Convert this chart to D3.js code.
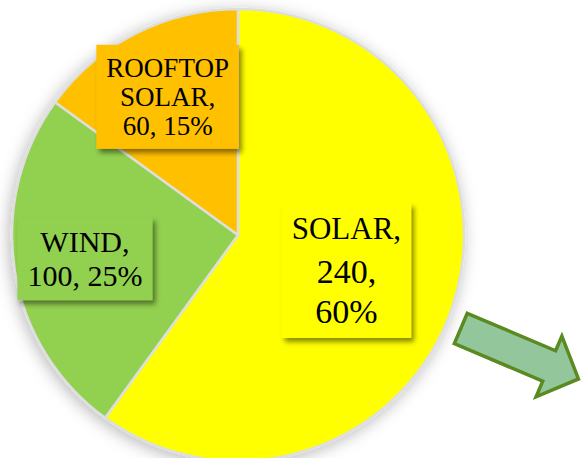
<!DOCTYPE html>
<html>
<head>
<meta charset="utf-8">
<script src="https://cdn.jsdelivr.net/npm/d3@7"></script>
<style>
  body { margin: 0; background: #fff; }
  svg { display: block; }
</style>
</head>
<body>
<div id="main"></div>
<script>
/// data ///
const categories = ['SOLAR', 'WIND', 'ROOFTOP SOLAR'];
const values = [240, 100, 60];
const percents = [60, 25, 15];
const colours = ['#ffff00', '#92d050', '#ffc000'];
// label text lines, as in the chart
const labelLines = [
    ['SOLAR,', '240,', '60%'],
    ['WIND,', '100, 25%'],
    ['ROOFTOP', 'SOLAR,', '60, 15%']
];

/// svg frame ///
const w = 582;
const h = 458;
const cx = 238, cy = 235, radius = 226;

let svg = d3.select('#main')
    .append('svg')
    .attr('width', w)
    .attr('height', h);

let defs = svg.append('defs');

// soft shadow round the pie
defs.append('filter')
    .attr('id', 'pieShadow')
    .attr('x', '-20%').attr('y', '-20%')
    .attr('width', '140%').attr('height', '140%')
    .append('feDropShadow')
    .attr('dx', -2).attr('dy', 3)
    .attr('stdDeviation', 8)
    .attr('flood-color', '#000')
    .attr('flood-opacity', 0.28);

// shadow under the label boxes
defs.append('filter')
    .attr('id', 'boxShadow')
    .attr('x', '-20%').attr('y', '-20%')
    .attr('width', '140%').attr('height', '140%')
    .append('feDropShadow')
    .attr('dx', 3).attr('dy', 4)
    .attr('stdDeviation', 2.5)
    .attr('flood-color', '#000')
    .attr('flood-opacity', 0.45);

let pieData = d3.pie()
    .sort(null)
    .value(d => d)(values);

let arc = d3.arc()
    .innerRadius(0)
    .outerRadius(radius);

let g = svg.append('g')
    .attr('transform', 'translate(' + cx + ',' + cy + ')');

g.append('g')
    .attr('filter', 'url(#pieShadow)')
    .selectAll('path')
    .data(pieData)
    .enter()
    .append('path')
    .attr('d', arc)
    .attr('fill', (d, i) => colours[i])
    .attr('stroke', '#dedede')
    .attr('stroke-width', 2.5)
    .attr('stroke-linejoin', 'round');

/// labels ///
let sizes = [[31, 34, 34], [30, 30], [27, 27, 27]];
let gaps = [[0, 43, 40], [0, 34], [0, 29, 29]];

pieData.forEach((d, i) => {
    let r = i === 0 ? 114 : 155;
    let c = d3.arc().innerRadius(r).outerRadius(r).centroid(d);

    let lg = g.append('g')
        .attr('transform', 'translate(' + c[0] + ',' + c[1] + ')');

    let box = lg.append('rect')
        .attr('fill', colours[i])
        .attr('filter', 'url(#boxShadow)');

    let txt = lg.append('text')
        .attr('text-anchor', 'middle')
        .style('font-family', '"Liberation Serif", "Times New Roman", serif')
        .style('fill', '#000');

    let total = d3.sum(gaps[i]);
    labelLines[i].forEach((line, j) => {
        txt.append('tspan')
            .attr('x', 0)
            .attr('y', d3.sum(gaps[i].slice(0, j + 1)) - total / 2 + sizes[i][j] * 0.33)
            .style('font-size', sizes[i][j] + 'px')
            .text(line);
    });

    let bb = txt.node().getBBox();
    let padX = 10, padY = 8;
    box.attr('x', bb.x - padX)
        .attr('y', bb.y - padY)
        .attr('width', bb.width + padX * 2)
        .attr('height', bb.height + padY * 2);
});

/// arrow ///
let arrowPts = [[0, -16], [96, -16], [96, -32], [128, 1], [96, 34], [96, 17], [0, 17]];

svg.append('path')
    .attr('d', d3.line()(arrowPts) + 'Z')
    .attr('transform', 'translate(461,328) rotate(23)')
    .attr('fill', '#93c79b')
    .attr('stroke', '#5a8a22')
    .attr('stroke-width', 3.5)
    .attr('stroke-linejoin', 'miter');
</script>
</body>
</html>
